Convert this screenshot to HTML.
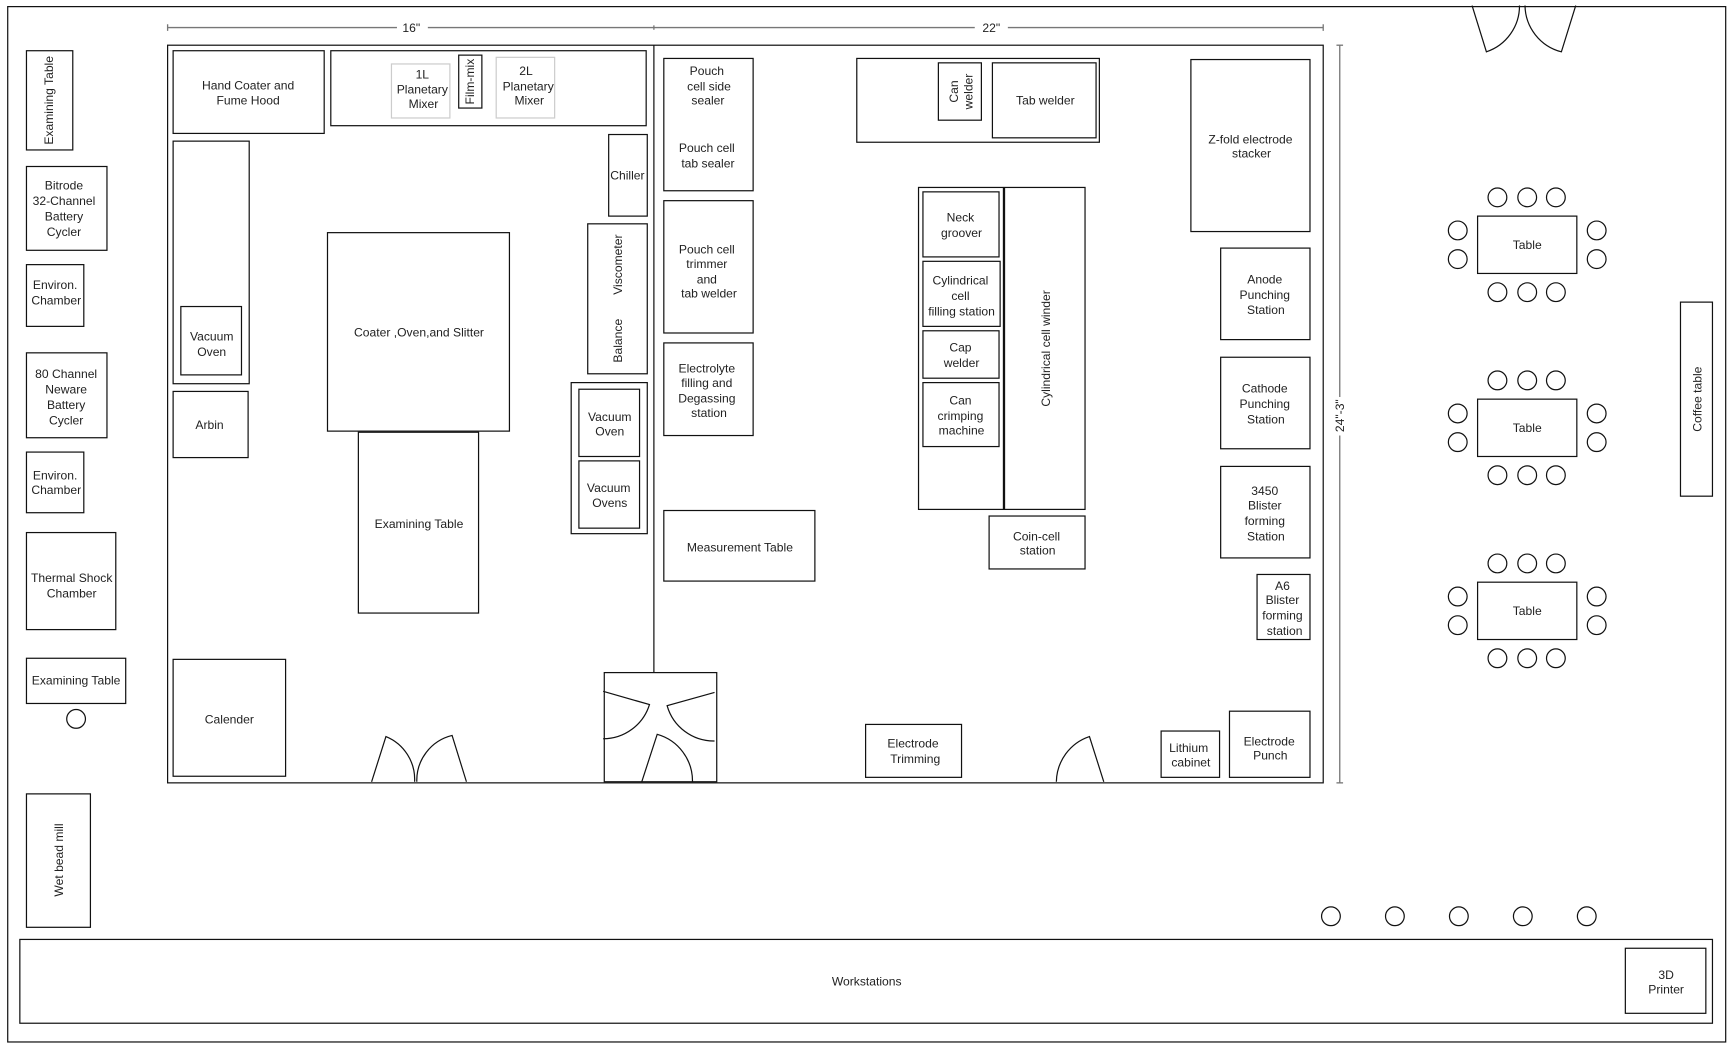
<!DOCTYPE html>
<html><head><meta charset="utf-8"><style>
html,body{margin:0;padding:0;background:#fff;}
svg{display:block;}
text{font-family:"Liberation Sans",sans-serif;font-size:11px;fill:#222;text-anchor:middle;}
</style></head><body>
<svg width="1729" height="1053" viewBox="0 0 1568 955" preserveAspectRatio="none" xmlns="http://www.w3.org/2000/svg">
<g fill="none" stroke="#111" stroke-width="1.1">
<rect x="7" y="6" width="1558" height="939"/>
<rect x="152" y="41" width="1048" height="669"/>
<line x1="593" y1="41" x2="593" y2="610"/>
</g>
<!-- dimension lines -->
<g stroke="#777" stroke-width="1.2" fill="none">
<line x1="152" y1="25" x2="360" y2="25"/><line x1="388" y1="25" x2="884" y2="25"/><line x1="914" y1="25" x2="1200" y2="25"/>
<line x1="152" y1="22" x2="152" y2="28"/><line x1="1200" y1="22" x2="1200" y2="28"/><line x1="593" y1="23" x2="593" y2="27"/>
<line x1="1215" y1="41" x2="1215" y2="360"/><line x1="1215" y1="395" x2="1215" y2="710"/>
<line x1="1212" y1="41" x2="1218" y2="41"/><line x1="1212" y1="710" x2="1218" y2="710"/>
</g>
<text x="373" y="29">16"</text><text x="899" y="29">22"</text>
<text transform="translate(1219,377) rotate(-90)">24"-3"</text>

<g fill="none" stroke="#111" stroke-width="1.1">
<!-- left column -->
<rect x="24" y="46" width="42" height="90"/>
<rect x="24" y="151" width="73" height="76"/>
<rect x="24" y="240" width="52" height="56"/>
<rect x="24" y="320" width="73" height="77"/>
<rect x="24" y="410" width="52" height="55"/>
<rect x="24" y="483" width="81" height="88"/>
<rect x="24" y="597" width="90" height="41"/>
<circle cx="69" cy="652" r="8.5"/>
<rect x="24" y="720" width="58" height="121"/>
<rect x="18" y="852" width="1535" height="76"/>
<rect x="1474" y="860" width="73" height="59"/>
<circle cx="1207" cy="831" r="8.5"/><circle cx="1265" cy="831" r="8.5"/><circle cx="1323" cy="831" r="8.5"/><circle cx="1381" cy="831" r="8.5"/><circle cx="1439" cy="831" r="8.5"/>
<!-- left room -->
<rect x="157" y="46" width="137" height="75"/>
<rect x="300" y="46" width="286" height="68"/>
<rect x="355" y="58" width="53" height="49" stroke="#ccc"/>
<rect x="416" y="50" width="21" height="48"/>
<rect x="450" y="52" width="53" height="55" stroke="#ccc"/>
<rect x="157" y="128" width="69" height="220"/>
<rect x="164" y="278" width="55" height="62"/>
<rect x="157" y="355" width="68" height="60"/>
<rect x="297" y="211" width="165" height="180"/>
<rect x="325" y="392" width="109" height="164"/>
<rect x="552" y="122" width="35" height="74"/>
<rect x="533" y="203" width="54" height="136"/>
<rect x="518" y="347" width="69" height="137"/>
<rect x="525" y="353" width="55" height="61"/>
<rect x="525" y="418" width="55" height="61"/>
<rect x="157" y="598" width="102" height="106"/>
<path d="M337,709 L350,668 A42,42 0 0 1 376,709"/>
<path d="M378,709 A42,42 0 0 1 410,667 L423,709"/>
<rect x="548" y="610" width="102" height="99"/>
<path d="M547,627 L589,639 A44,44 0 0 1 547,670"/>
<path d="M648,628 L605,640 A44,44 0 0 0 648,672"/>
<path d="M582,709 L596,666 A44,44 0 0 1 628,709"/>
<!-- right room -->
<rect x="602" y="53" width="81" height="120"/>
<rect x="602" y="182" width="81" height="120"/>
<rect x="602" y="311" width="81" height="84"/>
<rect x="602" y="463" width="137" height="64"/>
<rect x="777" y="53" width="220" height="76"/>
<rect x="851" y="57" width="39" height="52"/>
<rect x="900" y="57" width="94" height="68"/>
<rect x="833" y="170" width="77" height="292"/>
<rect x="837" y="174" width="69" height="59"/>
<rect x="837" y="237" width="70" height="59"/>
<rect x="837" y="300" width="69" height="43"/>
<rect x="837" y="347" width="69" height="58"/>
<rect x="911" y="170" width="73" height="292"/>
<rect x="897" y="468" width="87" height="48"/>
<rect x="785" y="657" width="87" height="48"/>
<path d="M958,709 A44,44 0 0 1 988,668 L1001,709"/>
<rect x="1053" y="663" width="53" height="42"/>
<rect x="1115" y="645" width="73" height="60"/>
<rect x="1080" y="54" width="108" height="156"/>
<rect x="1107" y="225" width="81" height="83"/>
<rect x="1107" y="324" width="81" height="83"/>
<rect x="1107" y="423" width="81" height="83"/>
<rect x="1140" y="521" width="48" height="59"/>
<!-- tables -->
<g id="tb">
<rect x="1340" y="196" width="90" height="52"/>
<circle cx="1358" cy="179" r="8.5"/><circle cx="1385" cy="179" r="8.5"/><circle cx="1411" cy="179" r="8.5"/>
<circle cx="1358" cy="265" r="8.5"/><circle cx="1385" cy="265" r="8.5"/><circle cx="1411" cy="265" r="8.5"/>
<circle cx="1322" cy="209" r="8.5"/><circle cx="1322" cy="235" r="8.5"/>
<circle cx="1448" cy="209" r="8.5"/><circle cx="1448" cy="235" r="8.5"/>
</g>
<use href="#tb" transform="translate(0,166)"/>
<use href="#tb" transform="translate(0,332)"/>
<rect x="1524" y="274" width="29" height="176"/>
<path d="M1335,5 L1348,47 A44,44 0 0 0 1378,5"/>
<path d="M1383,5 A44,44 0 0 0 1416,47 L1429,5"/>
</g>

<!-- labels -->
<text transform="translate(48,91) rotate(-90)">Examining Table</text>
<text x="58" y="172">Bitrode</text><text x="58" y="186">32-Channel</text><text x="58" y="200">Battery</text><text x="58" y="214">Cycler</text>
<text x="50" y="262">Environ.</text><text x="51" y="276">Chamber</text>
<text x="60" y="343">80 Channel</text><text x="60" y="357">Neware</text><text x="60" y="371">Battery</text><text x="60" y="385">Cycler</text>
<text x="50" y="435">Environ.</text><text x="51" y="448">Chamber</text>
<text x="65" y="528">Thermal Shock</text><text x="65" y="542">Chamber</text>
<text x="69" y="621">Examining Table</text>
<text transform="translate(57,780) rotate(-90)">Wet bead mill</text>
<text x="786" y="894">Workstations</text>
<text x="1511" y="888">3D</text><text x="1511" y="901">Printer</text>
<text x="225" y="81">Hand Coater and</text><text x="225" y="95">Fume Hood</text>
<text x="383" y="71">1L</text><text x="383" y="85">Planetary</text><text x="384" y="98">Mixer</text>
<text transform="translate(430,74) rotate(-90)">Film-mix</text>
<text x="477" y="68">2L</text><text x="479" y="82">Planetary</text><text x="480" y="95">Mixer</text>
<text x="192" y="309">Vacuum</text><text x="192" y="323">Oven</text>
<text x="190" y="389">Arbin</text>
<text x="380" y="305">Coater ,Oven,and Slitter</text>
<text x="380" y="479">Examining Table</text>
<text x="569" y="163">Chiller</text>
<text transform="translate(564,240) rotate(-90)">Viscometer</text>
<text transform="translate(564,309) rotate(-90)">Balance</text>
<text x="553" y="382">Vacuum</text><text x="553" y="395">Oven</text>
<text x="552" y="446">Vacuum</text><text x="553" y="460">Ovens</text>
<text x="208" y="656">Calender</text>
<text x="641" y="68">Pouch</text><text x="643" y="82">cell side</text><text x="642" y="95">sealer</text>
<text x="641" y="138">Pouch cell</text><text x="642" y="152">tab sealer</text>
<text x="641" y="230">Pouch cell</text><text x="641" y="243">trimmer</text><text x="641" y="257">and</text><text x="643" y="270">tab welder</text>
<text x="641" y="338">Electrolyte</text><text x="641" y="351">filling and</text><text x="641" y="365">Degassing</text><text x="643" y="378">station</text>
<text x="671" y="500">Measurement Table</text>
<text transform="translate(869,83) rotate(-90)">Can</text><text transform="translate(882,83) rotate(-90)">welder</text>
<text x="948" y="95">Tab welder</text>
<text x="871" y="201">Neck</text><text x="872" y="215">groover</text>
<text x="871" y="258">Cylindrical</text><text x="871" y="272">cell</text><text x="872" y="286">filling station</text>
<text x="871" y="319">Cap</text><text x="872" y="333">welder</text>
<text x="871" y="367">Can</text><text x="871" y="381">crimping</text><text x="872" y="394">machine</text>
<text transform="translate(952,316) rotate(-90)">Cylindrical cell winder</text>
<text x="940" y="490">Coin-cell</text><text x="941" y="503">station</text>
<text x="828" y="678">Electrode</text><text x="830" y="692">Trimming</text>
<text x="1078" y="682">Lithium</text><text x="1080" y="695">cabinet</text>
<text x="1151" y="676">Electrode</text><text x="1152" y="689">Punch</text>
<text x="1134" y="130">Z-fold electrode</text><text x="1135" y="143">stacker</text>
<text x="1147" y="257">Anode</text><text x="1147" y="271">Punching</text><text x="1148" y="285">Station</text>
<text x="1147" y="356">Cathode</text><text x="1147" y="370">Punching</text><text x="1148" y="384">Station</text>
<text x="1147" y="449">3450</text><text x="1147" y="462">Blister</text><text x="1147" y="476">forming</text><text x="1148" y="490">Station</text>
<text x="1163" y="535">A6</text><text x="1163" y="548">Blister</text><text x="1163" y="562">forming</text><text x="1165" y="576">station</text>
<text x="1385" y="226">Table</text><text x="1385" y="392">Table</text><text x="1385" y="558">Table</text>
<text transform="translate(1543,362) rotate(-90)">Coffee table</text>
</svg>
</body></html>
